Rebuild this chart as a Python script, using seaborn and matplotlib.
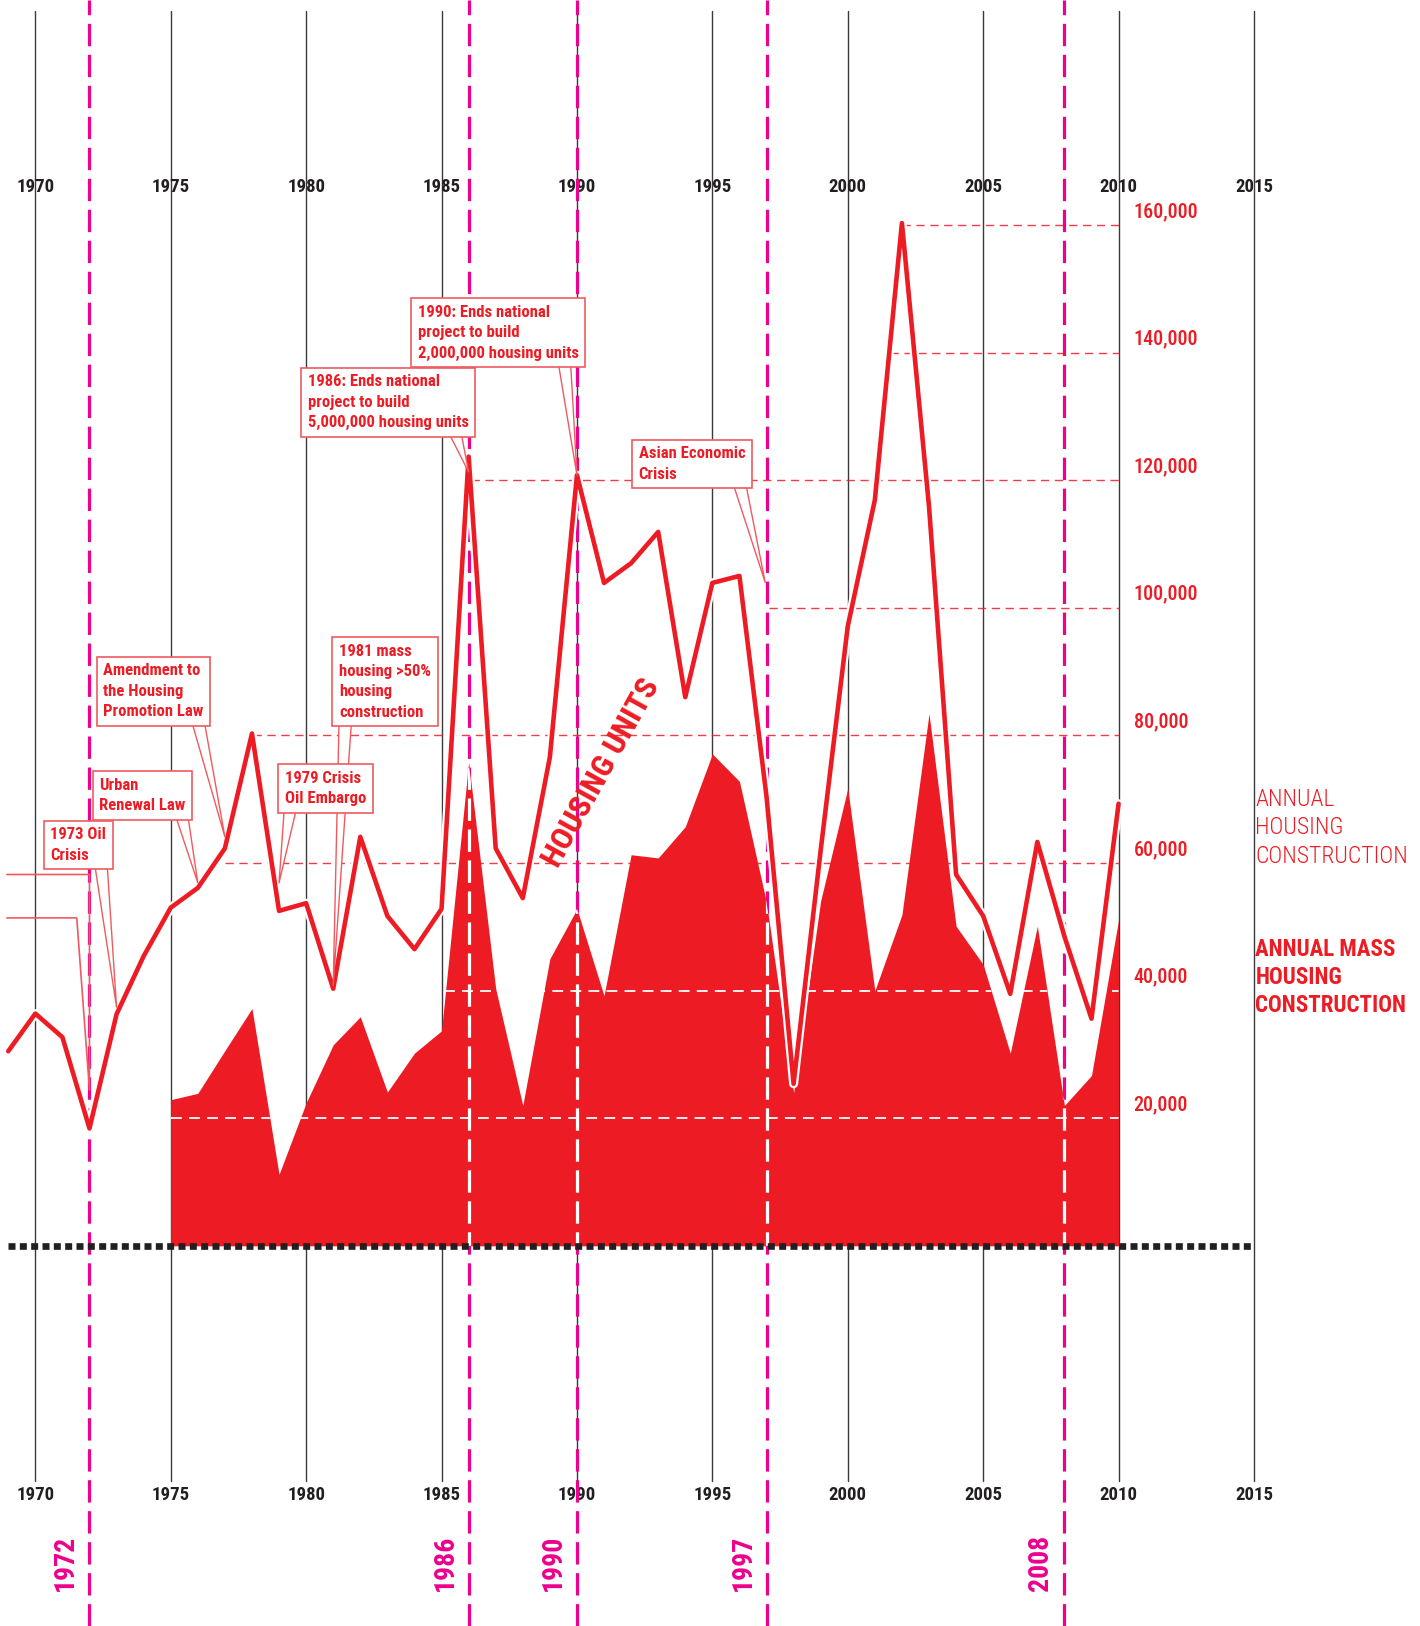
import numpy as np
import pandas as pd
import matplotlib.pyplot as plt
import matplotlib.patheffects as pe
import matplotlib.transforms as mtrans
import seaborn as sns

# housing units per year
years = list(range(1969, 2011))
total_units = [30500, 36400, 32700, 18400, 36300, 45400, 53000, 56100, 62300, 80300,
               52500, 53700, 40300, 64100, 51700, 46500, 52800, 123700, 62300, 54500,
               76600, 120800, 103900, 107000, 111900, 86000, 103900, 105000, 70400, 25400,
               62000, 97100, 116900, 160300, 115900, 58200, 51700, 39500, 63300, 48500,
               35600, 69300]
mass_years = list(range(1975, 2011))
mass_units = [22900, 23900, 30600, 37200, 11200, 22400, 31500, 35900, 24100, 30200,
              33700, 75800, 40300, 22000, 45000, 52800, 39200, 61300, 60800, 65700,
              77100, 72800, 53800, 24000, 54100, 71700, 40000, 51900, 83400, 50100,
              44100, 30200, 50100, 22000, 26700, 51100]

grid_years = list(range(1970, 2016, 5))
event_years = [1972, 1986, 1990, 1997, 2008]
value_ticks = [20000, 40000, 60000, 80000, 100000, 120000, 140000, 160000]
value_labels = ['20,000', '40,000', '60,000', '80,000', '100,000', '120,000', '140,000', '160,000']
# reference lines: (value, first year) -- red over white, white over the fill
red_refs = [(160000, 2002), (140000, 2001.55), (120000, 1986.1), (100000, 1997.1),
            (80000, 1978.05), (60000, 1977)]
white_refs = [(40000, 1985.1), (20000, 1975)]

# callouts: text, text top-left, tail tip, tail start along box bottom
callouts = [
    ('1973 Oil\nCrisis', (1970.56, 65600), (1973, 37400), 0.9),
    ('Urban\nRenewal Law', (1972.36, 73400), (1976, 56900), 0.95),
    ('Amendment to\nthe Housing\nPromotion Law', (1972.51, 91300), (1977, 64100), 0.94),
    ('1981 mass\nhousing >50%\nhousing\nconstruction', (1981.21, 94400), (1981, 40800), 0.07),
    ('1979 Crisis\nOil Embargo', (1979.22, 74500), (1979, 56900), 0.07),
    ('1986: Ends national\nproject to build\n5,000,000 housing units', (1980.06, 136600), (1986, 121300), 0.91),
    ('1990: Ends national\nproject to build\n2,000,000 housing units', (1984.12, 147500), (1990, 120800), 0.91),
    ('Asian Economic\nCrisis', (1992.28, 125300), (1996.95, 104000), 0.94),
]

RED = '#ED1C24'
PINK = '#EC008C'
DARK = '#231F20'
EDGE = '#F05A5F'

sns.set_style('white')
plt.rcParams['font.family'] = ['Roboto Condensed', 'Liberation Sans Narrow', 'Roboto', 'DejaVu Sans']

fig = plt.figure(figsize=(14.2, 16.26), dpi=100)
ax = fig.add_axes([0, 0, 1, 1])
ax.set_xlim(1968.696, 2021.13)
ax.set_ylim(-59590, 195270)
ax.axis('off')
blend = mtrans.blended_transform_factory(ax.transData, ax.transAxes)

# grid and year labels
for yr in grid_years:
    ax.axvline(yr, ymin=0.089, ymax=0.9935, color='#3a3a3a', lw=1, zorder=1)
    ax.text(yr, 0.885, str(yr), transform=blend, ha='center', va='center',
            fontsize=13.5, fontweight='bold', color=DARK, zorder=1)
    ax.text(yr, 0.0807, str(yr), transform=blend, ha='center', va='center',
            fontsize=13.5, fontweight='bold', color=DARK, zorder=1)

pink_dash = (0, (7, 2.7))
for yr in event_years:
    ax.axvline(yr, color=PINK, lw=2.3, ls=pink_dash, zorder=2)
    ax.annotate(str(yr), xy=(yr, 0.0387), xycoords=blend, xytext=(-17, 0),
                textcoords='offset points', rotation=90, ha='center', va='center',
                fontsize=20, fontweight='heavy', color=PINK)

for val, x0 in red_refs:
    ax.hlines(val, x0, 2010, colors=RED, lw=1, linestyles=(0, (6, 4)), alpha=0.85, zorder=2)

# mass housing area
df_mass = pd.DataFrame({'year': mass_years, 'units': mass_units})
fill = ax.fill_between(df_mass['year'], df_mass['units'], 0, color=RED, lw=0, zorder=3)
clip = fill.get_paths()[0]
for yr in event_years:
    l = ax.axvline(yr, color='white', lw=2.3, ls=pink_dash, zorder=4)
    l.set_clip_path(clip, ax.transData)
for val, x0 in white_refs:
    hl = ax.hlines(val, x0, 2010, colors='white', lw=1.3, linestyles=(0, (6, 4)), zorder=4)
    hl.set_clip_path(clip, ax.transData)

# cut-off callout at the left edge for 1972 (its text lies outside the page)
ax.plot([1968.95, 1972, 1972, 1971.53, 1968.95], [58200, 58200, 24400, 51400, 51400],
        color=EDGE, lw=1.2, zorder=4.5)

# annual housing construction line
df_total = pd.DataFrame({'year': years, 'units': total_units})
sns.lineplot(data=df_total, x='year', y='units', ax=ax, color=RED, lw=3.3, zorder=5,
             path_effects=[pe.Stroke(linewidth=6.5, foreground='white'), pe.Normal()])
ax.set_xlim(1968.696, 2021.13)
ax.set_ylim(-59590, 195270)

# zero baseline
ax.hlines(0, 1969, 2015, colors=DARK, lw=4.8, linestyles=(0, (1.05, 0.65)), zorder=6)

# value labels on the right
for val, lab in zip(value_ticks, value_labels):
    ax.annotate(lab, xy=(2010.56, val), xytext=(0, 3), textcoords='offset points',
                ha='left', va='bottom', fontsize=14.5, fontweight='medium', color=RED)

# callouts
for text, xy_text, xy_tip, rel in callouts:
    ax.annotate(text, xy=xy_tip, xytext=xy_text, ha='left', va='top',
                fontsize=12, fontweight='bold', color=RED, linespacing=1.45, zorder=7,
                bbox=dict(boxstyle='square,pad=0.4', fc='white', ec=EDGE, lw=1.2),
                arrowprops=dict(arrowstyle='wedge,tail_width=0.75,shrink_factor=0.5',
                                fc='white', ec=EDGE, lw=1, relpos=(rel, 0),
                                patchA=None, shrinkA=0, shrinkB=0))

ax.text(1990.9, 74100, 'HOUSING UNITS', rotation=61, ha='center', va='center',
        fontsize=23, fontweight='bold', color=RED, zorder=7)

ax.text(2015.05, 65500, 'ANNUAL\nHOUSING\nCONSTRUCTION', ha='left', va='center',
        fontsize=17, fontweight='light', color=RED, linespacing=1.3)
ax.text(2015.05, 42100, 'ANNUAL MASS\nHOUSING\nCONSTRUCTION', ha='left', va='center',
        fontsize=16.5, fontweight='bold', color=RED, linespacing=1.28)

fig.savefig('out.png', dpi=100)
